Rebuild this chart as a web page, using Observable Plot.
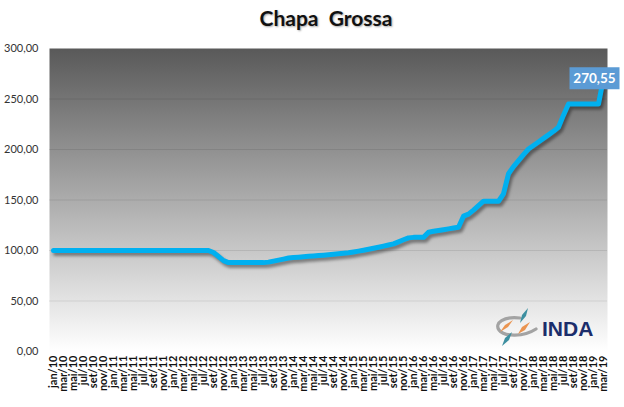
<!DOCTYPE html>
<html>
<head>
<meta charset="utf-8">
<script src="https://cdn.jsdelivr.net/npm/d3@7"></script>
<script src="https://cdn.jsdelivr.net/npm/@observablehq/plot@0.6"></script>
<style>
  html, body { margin: 0; padding: 0; background: #fff; }
  #wrap { position: relative; width: 624px; height: 407px; }
  #title { height: 36px; line-height: 36px; width: 624px; padding-left: 28px; box-sizing: border-box;
           text-align: center; font-family: Lato, sans-serif; font-weight: bold; font-size: 21px;
           color: #111; white-space: pre; text-shadow: 1px 1px 2px rgba(0,0,0,0.35); }
  #logo { position: absolute; left: 490px; top: 305px; }
</style>
</head>
<body>
<div id="wrap">
  <div id="title">Chapa  Grossa</div>
  <div id="chart"></div>
  <svg id="logo" width="115" height="45" viewBox="0 0 115 45">
    <path d="M 30 13 C 14 11, 4 18, 9 25 C 14 32, 34 32, 46 24" fill="none" stroke="#a3a3a3" stroke-width="3.2" stroke-linecap="round"/>
    <polygon points="38,3 36,11 30,18 32,10" fill="#3d8fa0"/>
    <polygon points="22,27 19,35 12,41 15,33" fill="#3d8fa0"/>
    <polygon points="10,27 15,20 23,15 18,22" fill="#ea9450"/>
    <polygon points="28,29 32,22 40,17 35,25" fill="#ea9450"/>
    <text x="52" y="31" font-family="Liberation Sans, Arial, sans-serif" font-weight="bold" font-size="21" fill="#1b2d6b">INDA</text>
  </svg>
</div>
<script>
const monthNames = ["jan","fev","mar","abr","mai","jun","jul","ago","set","out","nov","dez"];
const years = ["10","11","12","13","14","15","16","17","18","19"];
const lastPeriod = "mar/19";

const periods = [];
outer: for (const yr of years) {
  for (const m of monthNames) {
    periods.push(m + "/" + yr);
    if (m + "/" + yr === lastPeriod) break outer;
  }
}

// Monthly index values (jan/10 .. mar/19)
const values = [
  100,100,100,100,100,100,100,100,100,100,100,100,          // 2010
  100,100,100,100,100,100,100,100,100,100,100,100,          // 2011
  100,100,100,100,100,100,100,100,98,94,90,88,              // 2012
  88,88,88,88,88,88,88,88.5,89.5,90.5,91.5,92.5,            // 2013
  93,93.4,93.8,94.2,94.6,95,95.4,95.8,96.2,96.7,97.2,97.7,  // 2014
  98.5,99.4,100.3,101.2,102.2,103.2,104.3,105.4,106.6,108.6,110.6,112.5, // 2015
  113,113,113,118,119,119.8,120.6,121.4,122.2,123,134,136,  // 2016
  140,144.5,148.8,148.8,148.8,148.8,156,176,183,189,195,200.5, // 2017
  204,207.5,211,214.5,218,222,234,245,245,245,245,245,      // 2018
  245,245,270.55                                            // 2019
];

const yTicks = [0, 50, 100, 150, 200, 250, 300];
const xTicks = periods.filter((d, i) => i % 2 === 0);

const data = periods.map((p, i) => ({period: p, value: values[i]}));
const last = [data[data.length - 1]];
const fmt = v => d3.format(".2f")(v).replace(".", ",");

const boxSymbol = { draw(ctx) { ctx.moveTo(-25, -11); ctx.lineTo(25, -11); ctx.lineTo(25, 11); ctx.lineTo(-25, 11); ctx.closePath(); } };

const chart = Plot.plot({
  width: 624,
  height: 371,
  marginTop: 12,
  marginBottom: 56,
  marginLeft: 49,
  marginRight: 17,
  style: { fontFamily: "Lato, sans-serif", fontSize: "11px", color: "#333", background: "transparent", overflow: "visible" },
  x: { type: "point", domain: periods, padding: 0.5, ticks: xTicks, tickRotate: -90, tickSize: 0, tickPadding: 4, label: null },
  y: { domain: [0, 300], ticks: yTicks, tickFormat: fmt, tickSize: 0, tickPadding: 11, label: null },
  marks: [
    Plot.frame({ fill: "url(#bgGrad)", stroke: null }),
    Plot.ruleY(yTicks.filter(d => d > 0 && d < 300), { stroke: "#000", strokeOpacity: 0.09 }),
    Plot.line(data, { x: "period", y: "value", stroke: "#000", strokeOpacity: 0.4, strokeWidth: 5, dx: 2, dy: 3, strokeLinejoin: "round" }),
    Plot.line(data, { x: "period", y: "value", stroke: "#00B0F0", strokeWidth: 5, strokeLinejoin: "round" }),
    Plot.dot(last, { x: "period", y: "value", symbol: boxSymbol, fill: "#5B9BD5", stroke: null, dx: -9 }),
    Plot.text(last, { x: "period", y: "value", text: d => fmt(d.value), fill: "white", fontWeight: "bold", fontSize: 13.5, dx: -9 })
  ]
});

document.getElementById("chart").appendChild(chart);

const svg = d3.select(chart.tagName.toLowerCase() === "svg" ? chart : chart.querySelector("svg"));
const defs = svg.insert("defs", ":first-child");
const g = defs.append("linearGradient").attr("id", "bgGrad").attr("x1", 0).attr("y1", 0).attr("x2", 0).attr("y2", 1);
g.append("stop").attr("offset", "0%").attr("stop-color", "#595959");
g.append("stop").attr("offset", "100%").attr("stop-color", "#ffffff");
const f = defs.append("filter").attr("id", "shadowBlur").attr("x", "-10%").attr("y", "-10%").attr("width", "120%").attr("height", "120%");
f.append("feGaussianBlur").attr("stdDeviation", 1.5);

const lines = svg.selectAll('g[aria-label="line"]').nodes();
if (lines.length) d3.select(lines[0]).attr("filter", "url(#shadowBlur)");

svg.selectAll('g[aria-label^="x-axis"] text').attr("font-weight", "bold").attr("font-size", "11px").attr("fill", "#111");
svg.selectAll('g[aria-label^="y-axis"] text').attr("fill", "#333");
</script>
</body>
</html>
